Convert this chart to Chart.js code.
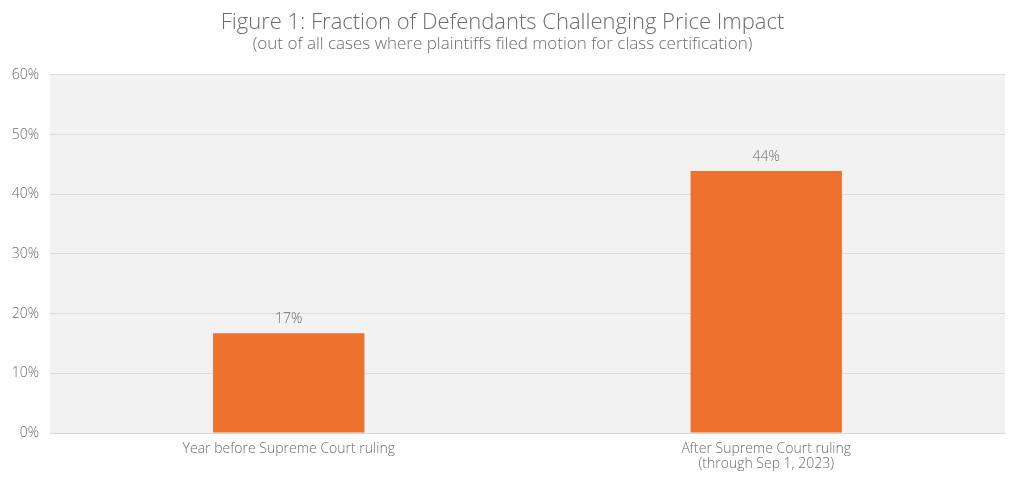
<!DOCTYPE html>
<html>
<head>
<meta charset="utf-8">
<script src="https://cdn.jsdelivr.net/npm/chart.js@4"></script>
<style>
html,body{margin:0;padding:0;background:#fff;}
#wrap{width:1024px;height:482px;position:relative;}
</style>
</head>
<body>
<div id="wrap"><canvas id="c"></canvas></div>
<script>
const categories = [["Year before Supreme Court ruling"], ["After Supreme Court ruling", "(through Sep 1, 2023)"]];
const values = [16.7, 43.9];
const yTicks = [0, 10, 20, 30, 40, 50, 60];
const titleText = "Figure 1: Fraction of Defendants Challenging Price Impact";
const subtitleText = "(out of all cases where plaintiffs filed motion for class certification)";

const FONT = "'Open Sans', Lato, sans-serif";
const TEXT = "#6b6b6b";

const plotBg = {
  id: 'plotBg',
  beforeDraw(chart) {
    const {ctx, chartArea: a} = chart;
    ctx.save();
    ctx.fillStyle = '#f2f2f2';
    ctx.fillRect(a.left, a.top, a.right - a.left, a.bottom - a.top);
    ctx.restore();
  }
};
const valueLabels = {
  id: 'valueLabels',
  afterDatasetsDraw(chart) {
    const {ctx} = chart;
    const meta = chart.getDatasetMeta(0);
    ctx.save();
    ctx.fillStyle = TEXT;
    ctx.font = "300 14px " + FONT;
    ctx.textAlign = 'center';
    ctx.textBaseline = 'middle';
    meta.data.forEach((el, i) => {
      ctx.fillText(Math.round(values[i]) + '%', el.x, el.y - 14);
    });
    ctx.restore();
  }
};

new Chart(document.getElementById('c'), {
  type: 'bar',
  data: {
    labels: categories,
    datasets: [{
      data: values,
      backgroundColor: '#ee722e',
      borderWidth: 0,
      barPercentage: 0.634,
      categoryPercentage: 0.5
    }]
  },
  options: {
    responsive: true,
    maintainAspectRatio: false,
    animation: false,
    layout: {padding: {left: 0, right: 19, top: 0, bottom: 0}},
    plugins: {
      legend: {display: false},
      tooltip: {enabled: false},
      title: {
        display: true,
        text: titleText,
        color: TEXT,
        font: {family: FONT, size: 22, weight: 300, lineHeight: 1.1},
        padding: {top: 11, bottom: 0}
      },
      subtitle: {
        display: true,
        text: subtitleText,
        color: TEXT,
        font: {family: FONT, size: 17, weight: 300, lineHeight: 1.1},
        padding: {top: 0, bottom: 21}
      }
    },
    scales: {
      x: {
        grid: {display: false, drawTicks: false},
        border: {display: true, color: '#d9d9d9', width: 1},
        ticks: {color: TEXT, font: {family: FONT, size: 14, weight: 300, lineHeight: 1.1}, padding: 8, maxRotation: 0, autoSkip: false},
        afterFit(scale) { scale.height = 49; }
      },
      y: {
        min: 0, max: 60,
        afterBuildTicks(scale) { scale.ticks = yTicks.map(v => ({value: v})); },
        grid: {color: '#dcdcdc', lineWidth: 1, drawTicks: false},
        border: {display: false},
        ticks: {color: TEXT, font: {family: FONT, size: 14, weight: 300}, padding: 11, callback: v => v + '%'},
        afterFit(scale) { scale.width = 50; }
      }
    }
  },
  plugins: [plotBg, valueLabels]
});
</script>
</body>
</html>
